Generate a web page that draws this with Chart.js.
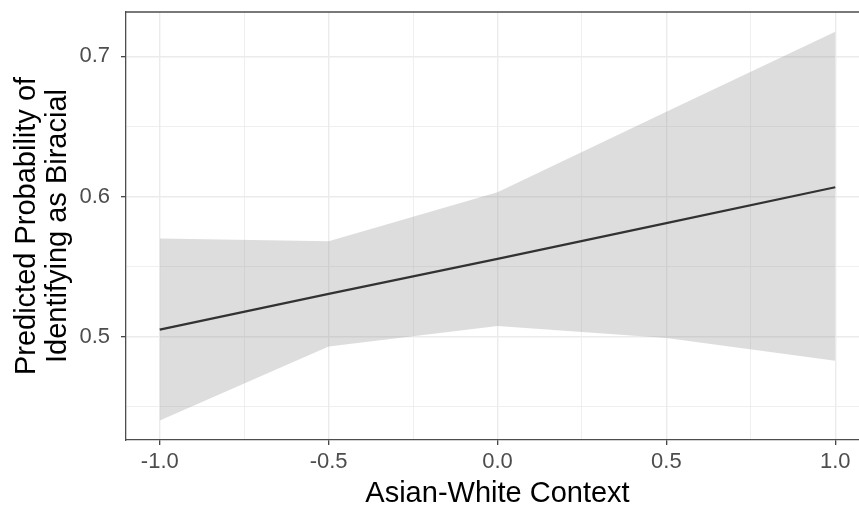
<!DOCTYPE html>
<html>
<head>
<meta charset="utf-8">
<script src="https://cdn.jsdelivr.net/npm/chart.js@4.4.1/dist/chart.umd.min.js"></script>
<style>
  html, body { margin: 0; padding: 0; background: #ffffff; overflow: hidden; }
  #wrap { width: 880px; height: 508px; }
</style>
</head>
<body>
<div id="wrap"><canvas id="contextChart" width="880" height="508"></canvas></div>
<script>

// Asian-White context values where the model was evaluated
let contextX = [-1.0, -0.5, 0.0, 0.5, 1.0];

// predicted probability and its confidence band
let predicted = [0.505, 0.5305, 0.5555, 0.581, 0.6066];
let upperBand = [0.570, 0.568, 0.603, 0.6605, 0.7176];
let lowerBand = [0.4402, 0.493, 0.5076, 0.499, 0.4828];

// axis ticks (major ones get a label, the rest are minor grid lines)
let xTicks = [-1.0, -0.75, -0.5, -0.25, 0.0, 0.25, 0.5, 0.75, 1.0];
let xLabels = [-1.0, -0.5, 0.0, 0.5, 1.0];
let yTicks = [0.45, 0.5, 0.55, 0.6, 0.65, 0.7];
let yLabels = [0.5, 0.6, 0.7];

function toPoints(values) {
    return contextX.map(function (x, i) {
        return { x: x, y: values[i] };
    });
}

function isMajor(value, labels) {
    return labels.some(function (v) { return Math.abs(v - value) < 1e-9; });
}

let fontFamily = "'Liberation Sans', Arial, Helvetica, sans-serif";

/*panel border along the top and right of the plotting area*/
let panelBorder = {
    id: "panelBorder",
    afterDraw: function (chart) {
        let a = chart.chartArea;
        let c = chart.ctx;
        c.save();
        c.strokeStyle = "#4d4d4d";
        c.lineWidth = 1.3;
        c.beginPath();
        c.moveTo(a.left, a.top);
        c.lineTo(a.right, a.top);
        c.lineTo(a.right, a.bottom);
        c.stroke();
        c.restore();
    }
};

function axisGrid(labels) {
    return {
        color: "#ebebeb",
        lineWidth: function (ctx) {
            return isMajor(ctx.tick.value, labels) ? 1.4 : 0.8;
        },
        tickLength: 5,
        tickColor: function (ctx) {
            return isMajor(ctx.tick.value, labels) ? "#333333" : "rgba(0,0,0,0)";
        },
        tickWidth: 1.2
    };
}

let ctx = document.getElementById("contextChart").getContext("2d");

let contextChart = new Chart(ctx, {
    type: "line",
    data: {
        datasets: [
            {
                label: "upper",
                data: toPoints(upperBand),
                borderWidth: 0,
                borderColor: "rgba(0,0,0,0)",
                backgroundColor: "rgba(153,153,153,0.33)",
                pointRadius: 0,
                fill: "+1",
                tension: 0
            },
            {
                label: "lower",
                data: toPoints(lowerBand),
                borderWidth: 0,
                borderColor: "rgba(0,0,0,0)",
                pointRadius: 0,
                fill: false,
                tension: 0
            },
            {
                label: "predicted",
                data: toPoints(predicted),
                borderColor: "#000000",
                borderWidth: 2.2,
                pointRadius: 0,
                fill: false,
                tension: 0
            }
        ]
    },
    options: {
        responsive: false,
        animation: false,
        layout: { padding: { left: 11, right: 11, top: 12, bottom: 0 } },
        plugins: {
            legend: { display: false },
            tooltip: { enabled: false }
        },
        scales: {
            x: {
                type: "linear",
                min: -1.1,
                max: 1.1,
                afterBuildTicks: function (scale) {
                    scale.ticks = xTicks.map(function (v) { return { value: v }; });
                },
                // fixed axis band below the panel
                afterFit: function (scale) {
                    scale.height = 68;
                    scale.paddingLeft = 0;
                    scale.paddingRight = 0;
                },
                grid: axisGrid(xLabels),
                border: { color: "#4d4d4d", width: 1.3 },
                ticks: {
                    color: "#4d4d4d",
                    padding: 4,
                    maxRotation: 0,
                    autoSkip: false,
                    font: { family: fontFamily, size: 22 },
                    callback: function (value) {
                        return isMajor(value, xLabels) ? value.toFixed(1) : "";
                    }
                },
                title: {
                    display: true,
                    text: "Asian-White Context",
                    color: "#000000",
                    padding: { top: 0, bottom: 0 },
                    font: { family: fontFamily, size: 29, lineHeight: 0.95 }
                }
            },
            y: {
                type: "linear",
                min: 0.4263,
                max: 0.7316,
                afterBuildTicks: function (scale) {
                    scale.ticks = yTicks.map(function (v) { return { value: v }; });
                },
                afterFit: function (scale) {
                    scale.width = 115;
                    scale.paddingTop = 0;
                    scale.paddingBottom = 0;
                },
                grid: axisGrid(yLabels),
                border: { color: "#4d4d4d", width: 1.3 },
                ticks: {
                    color: "#4d4d4d",
                    padding: 11,
                    autoSkip: false,
                    font: { family: fontFamily, size: 22 },
                    callback: function (value) {
                        return isMajor(value, yLabels) ? value.toFixed(1) : "";
                    }
                },
                title: {
                    display: true,
                    text: ["Predicted Probability of", "Identifying as Biracial"],
                    color: "#000000",
                    padding: { top: 0, bottom: 0 },
                    font: { family: fontFamily, size: 29, lineHeight: 1.07 }
                }
            }
        }
    },
    plugins: [panelBorder]
});
</script>
</body>
</html>
